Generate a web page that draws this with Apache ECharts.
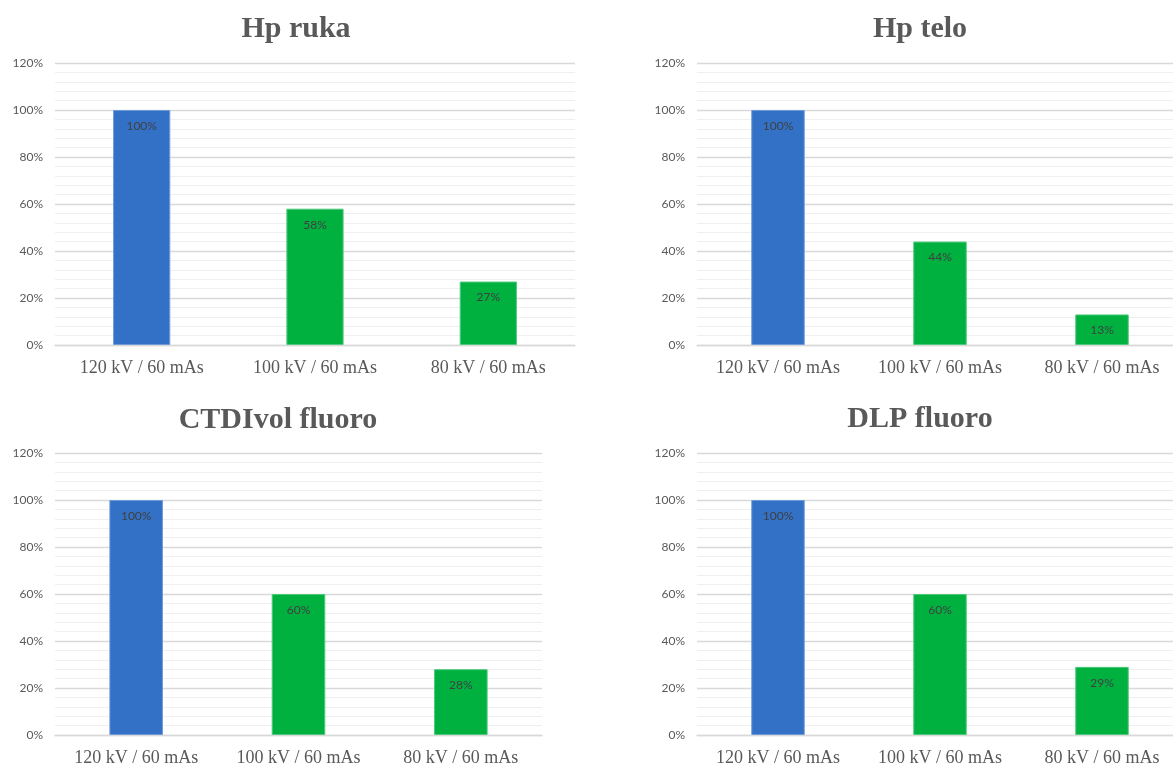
<!DOCTYPE html>
<html>
<head>
<meta charset="utf-8">
<script src="https://cdn.jsdelivr.net/npm/echarts@6/dist/echarts.min.js"></script>
<style>
    html, body { margin: 0; padding: 0; background: #fff; overflow: hidden; }
    #main { width: 1190px; height: 767px; }
</style>
</head>
<body>
<div id="main"></div>
<script>
// categories and values (in %)
var categories = ['120 kV / 60 mAs', '100 kV / 60 mAs', '80 kV / 60 mAs'];
var titles = ['Hp ruka', 'Hp telo', 'CTDIvol fluoro', 'DLP fluoro'];
var hpRuka = [100, 58, 27];
var hpTelo = [100, 44, 13];
var ctdiFluoro = [100, 60, 28];
var dlpFluoro = [100, 60, 29];
var yTicks = [0, 20, 40, 60, 80, 100, 120];

var BLUE = '#3371c7', GREEN = '#00b140', GREY = '#595959';

// grid placement per panel (right panels run a bit past the window edge, as in the source)
var panels = [
    { data: hpRuka, grid: { left: 55, top: 63, width: 520, height: 282 }, tx: 296, ty: 14 },
    { data: hpTelo, grid: { left: 697, top: 63, width: 486, height: 282 }, tx: 920, ty: 14 },
    { data: ctdiFluoro, grid: { left: 55, top: 453, width: 487, height: 283 }, tx: 278, ty: 405 },
    { data: dlpFluoro, grid: { left: 697, top: 453, width: 486, height: 283 }, tx: 920, ty: 404 }
];

function barData(vals) {
    // first bar blue (reference), others green
    var out = [];
    for (var i = 0; i < vals.length; i++) {
        out.push({
            value: vals[i],
            itemStyle: { color: i === 0 ? BLUE : GREEN, borderColor: i === 0 ? '#6f9ad8' : '#4cc97a', borderWidth: 1 }
        });
    }
    return out;
}

var opt = { animation: false, backgroundColor: '#fff', title: [], grid: [], xAxis: [], yAxis: [], series: [] };

panels.forEach(function (p, i) {
    opt.title.push({
        text: titles[i], left: p.tx, top: p.ty, textAlign: 'center', padding: 0,
        textStyle: { fontFamily: 'Liberation Serif', fontWeight: 'bold', fontSize: 30, color: GREY }
    });
    opt.grid.push(p.grid);
    opt.xAxis.push({
        type: 'category', gridIndex: i, data: categories,
        axisTick: { show: false },
        axisLine: { lineStyle: { color: '#d9d9d9', width: 1.3 } },
        axisLabel: { interval: 0, margin: 14, fontFamily: 'Liberation Serif', fontSize: 18, color: GREY }
    });
    opt.yAxis.push({
        type: 'value', gridIndex: i, min: yTicks[0], max: yTicks[yTicks.length - 1], interval: 20,
        axisLine: { show: false }, axisTick: { show: false },
        axisLabel: { margin: 12, fontFamily: 'Lato', fontSize: 12, color: GREY, formatter: '{value}%' },
        splitLine: { lineStyle: { color: '#d9d9d9', width: 1.3 } },
        minorTick: { show: false, splitNumber: 5 },
        minorSplitLine: { show: true, lineStyle: { color: '#efefef', width: 1 } }
    });
    opt.series.push({
        type: 'bar', xAxisIndex: i, yAxisIndex: i, barWidth: '33%',
        data: barData(p.data),
        label: {
            show: true, position: 'insideTop', distance: 10, formatter: '{c}%',
            fontFamily: 'Lato', fontSize: 12, color: '#404040'
        }
    });
});

var myChart = echarts.init(document.getElementById('main'), null, { renderer: 'canvas' });
myChart.setOption(opt);
</script>
</body>
</html>
